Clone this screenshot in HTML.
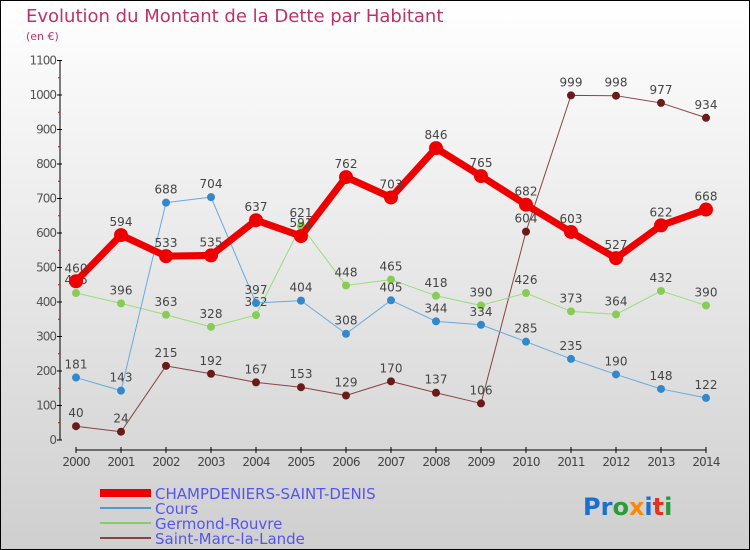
<!DOCTYPE html>
<html><head><meta charset="utf-8"><style>
body{margin:0;width:750px;height:550px;overflow:hidden}
svg{display:block;font-family:"DejaVu Sans","Liberation Sans",sans-serif}
</style></head><body>
<svg width="750" height="550" viewBox="0 0 750 550">
<defs><linearGradient id="bg" x1="0" y1="0" x2="0" y2="1"><stop offset="0" stop-color="#ffffff"/><stop offset="1" stop-color="#cfcfcf"/></linearGradient></defs>
<rect x="0.5" y="0.5" width="749" height="549" fill="url(#bg)" stroke="#000"/>
<text x="26" y="22" font-size="18" fill="#c0306a">Evolution du Montant de la Dette par Habitant</text>
<text x="26" y="40" font-size="11" fill="#c0306a">(en €)</text>
<g id="axes"></g>
<g id="series"></g>
<g>
<rect x="100" y="489" width="51" height="8" fill="#ee0000"/>
<text x="155" y="499" font-size="15" fill="#5555ee">CHAMPDENIERS-SAINT-DENIS</text>
<line x1="100" y1="508" x2="151" y2="508" stroke="#5599cc" stroke-width="2"/>
<text x="155" y="514" font-size="15" fill="#5555ee">Cours</text>
<line x1="100" y1="523" x2="151" y2="523" stroke="#88cc66" stroke-width="2"/>
<text x="155" y="529" font-size="15" fill="#5555ee">Germond-Rouvre</text>
<line x1="100" y1="538" x2="151" y2="538" stroke="#884444" stroke-width="2"/>
<text x="155" y="544" font-size="15" fill="#5555ee">Saint-Marc-la-Lande</text>
</g>
<text x="583" y="515" font-size="24" font-weight="bold"><tspan fill="#1a6fd0">Pr</tspan><tspan fill="#2a9a3a">o</tspan><tspan fill="#ff8800">x</tspan><tspan fill="#1a6fd0">i</tspan><tspan fill="#e83020">t</tspan><tspan fill="#2a9a3a">i</tspan></text>
</svg>
<script>
const years=[2000,2001,2002,2003,2004,2005,2006,2007,2008,2009,2010,2011,2012,2013,2014];
const yTicks=[0,100,200,300,400,500,600,700,800,900,1000,1100];
const champdeniers=[460,594,533,535,637,591,762,703,846,765,682,603,527,622,668];
const cours=[181,143,688,704,397,404,308,405,344,334,285,235,190,148,122];
const germond=[426,396,363,328,362,621,448,465,418,390,426,373,364,432,390];
const saintMarc=[40,24,215,192,167,153,129,170,137,106,604,999,998,977,934];
const NS='http://www.w3.org/2000/svg';
const X=i=>76+i*45, Y=v=>440-v*0.345;
function mk(p,t,a){const e=document.createElementNS(NS,t);for(const k in a)e.setAttribute(k,a[k]);p.appendChild(e);return e;}
const ax=document.getElementById('axes');
mk(ax,'line',{x1:60,y1:Y(1100),x2:60,y2:440,stroke:'#000'});
mk(ax,'line',{x1:X(0),y1:450,x2:X(14),y2:450,stroke:'#000'});
yTicks.forEach(v=>{mk(ax,'line',{x1:57,y1:Y(v),x2:62,y2:Y(v),stroke:'#000'});
 const t=mk(ax,'text',{x:56,y:Y(v)+4,'font-size':12,fill:'#555','text-anchor':'end','letter-spacing':'-1'});t.textContent=v;
 
 
 if(v<1100)mk(ax,'line',{x1:58,y1:Y(v+50),x2:60,y2:Y(v+50),stroke:'#e00'});});
years.forEach((y,i)=>{mk(ax,'line',{x1:X(i),y1:447,x2:X(i),y2:453,stroke:'#000'});
 const t=mk(ax,'text',{x:X(i),y:466,'font-size':12,fill:'#444','text-anchor':'middle','letter-spacing':'-0.8'});t.textContent=y;
 
 });
const sg=document.getElementById('series');
function series(d,name,color,dot,w,r){
 const g=mk(sg,'g',{});
 
 
 mk(g,'polyline',{points:d.map((v,i)=>X(i)+','+Y(v)).join(' '),fill:'none',stroke:color,'stroke-width':w,'stroke-linejoin':'round'});
 d.forEach((v,i)=>{const c=mk(g,'circle',{cx:X(i),cy:Y(v),r:r,fill:dot});
  
  
  const t=mk(g,'text',{x:X(i),y:Y(v)-9,'font-size':12,fill:'#444','text-anchor':'middle'});t.textContent=v;
  
  });
}
series(saintMarc,'saint-marc-series','#884444','#6b1a1a',1,4);
series(germond,'germond-series','#99dd77','#88cc55',1,4);
series(cours,'cours-series','#66aadd','#3388cc',1,4);
series(champdeniers,'champdeniers-series','#ee0000','#ee0000',7,7);
</script>
</body></html>
